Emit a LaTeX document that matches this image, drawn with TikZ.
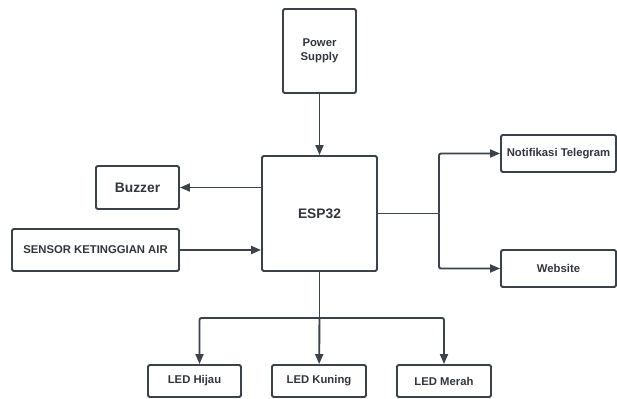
\documentclass[tikz,border=0pt]{standalone}
\usepackage{fontspec}
\setmainfont{Liberation Sans}
\usetikzlibrary{arrows.meta}
\definecolor{garis}{RGB}{60,66,74}
\definecolor{teks}{RGB}{50,54,60}

\begin{document}
\begin{tikzpicture}[x=1pt, y=-1pt,
        blok/.style={draw=garis, line width=1.9pt, rounded corners=1.5pt, inner sep=0pt, align=center, text=teks, font=\bfseries\fontsize{11.3}{14}\selectfont},
        besar/.style={font=\bfseries\fontsize{13.8}{16}\selectfont},
        panah/.style={draw=garis, line width=1.9pt, -{Triangle[length=10pt,width=8pt]}}]
        \useasboundingbox (0,0) rectangle (617,398);

        % Power supply
        \node[blok, minimum width=73pt, minimum height=84pt] (power) at (319.5,51) {Power\\Supply};

        % ESP32
        \node[blok, besar, minimum width=115pt, minimum height=115pt] (esp) at (319.5,213.5) {ESP32};

        % Input / output kiri
        \node[blok, besar, minimum width=83pt, minimum height=43pt] (buzzer) at (137.5,187.5) {Buzzer};
        \node[blok, minimum width=167pt, minimum height=42pt] (sensor) at (95.5,250) {SENSOR KETINGGIAN AIR};

        % Output kanan
        \node[blok, minimum width=115pt, minimum height=37pt] (tele) at (558.5,153.5) {Notifikasi Telegram};
        \node[blok, minimum width=115pt, minimum height=37pt] (web) at (558.5,268.5) {Website};

        % LED
        \node[blok, minimum width=93pt, minimum height=32pt] (hijau) at (194.5,381) {LED Hijau};
        \node[blok, minimum width=94pt, minimum height=32pt] (kuning) at (319,381) {LED Kuning};
        \node[blok, minimum width=94pt, minimum height=32pt] (merah) at (444,381) {LED Merah};

        % Titik cabang
        \coordinate (cabkanan) at (439,213.5);
        \coordinate (cabbawah) at (319.5,318);

        % Panah
        \draw[panah] (power) -- (esp);
        \draw[panah] (esp.west |- buzzer) -- (buzzer);
        \draw[panah] (sensor) -- (esp.west |- sensor);
        \draw[draw=garis, line width=1.9pt] (esp.east) -- (cabkanan);
        \draw[panah, rounded corners=2pt] (cabkanan) |- (tele);
        \draw[panah, rounded corners=2pt] (cabkanan) |- (web);
        \draw[draw=garis, line width=1.9pt] (esp.south) -- (cabbawah);
        \draw[panah, rounded corners=2pt] (cabbawah) -| ([xshift=5pt]hijau.north);
        \draw[panah] (cabbawah) -- (kuning);
        \draw[panah, rounded corners=2pt] (cabbawah) -| (merah);
\end{tikzpicture}
\end{document}
